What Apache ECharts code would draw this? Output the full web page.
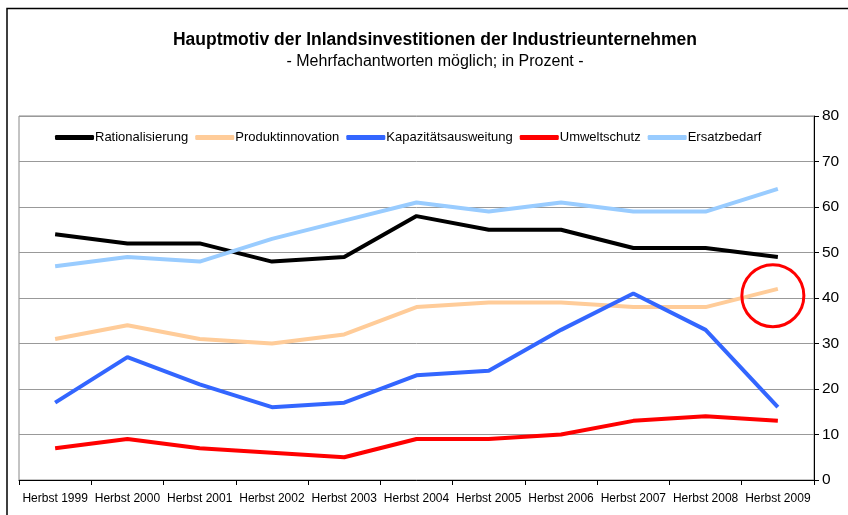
<!DOCTYPE html>
<html>
<head>
<meta charset="utf-8">
<script src="https://cdn.jsdelivr.net/npm/echarts@6/dist/echarts.min.js"></script>
<style>html,body{margin:0;padding:0;background:#fff}#c{width:848px;height:515px}</style>
</head>
<body>
<div id="c"></div>
<script>
var categories = ['Herbst 1999','Herbst 2000','Herbst 2001','Herbst 2002','Herbst 2003','Herbst 2004','Herbst 2005','Herbst 2006','Herbst 2007','Herbst 2008','Herbst 2009'];
var rationalisierung = [54, 52, 52, 48, 49, 58, 55, 55, 51, 51, 49];
var produktinnovation = [31, 34, 31, 30, 32, 38, 39, 39, 38, 38, 42];
var kapazitaet = [17, 27, 21, 16, 17, 23, 24, 33, 41, 33, 16];
var umweltschutz = [7, 9, 7, 6, 5, 9, 9, 10, 13, 14, 13];
var ersatzbedarf = [47, 49, 48, 53, 57, 61, 59, 61, 59, 59, 64];
var yTicks = [0, 10, 20, 30, 40, 50, 60, 70, 80];

var font = '"Liberation Sans", Arial, sans-serif';
function mk(name, data, color, extra) {
  var s = {
    name: name, type: 'line', data: data, symbol: 'none',
    lineStyle: { color: color, width: 4 }, itemStyle: { color: color },
    z: 3
  };
  if (extra) for (var k in extra) s[k] = extra[k];
  return s;
}
var chart = echarts.init(document.getElementById('c'));
chart.setOption({
  animation: false,
  backgroundColor: '#fff',
  textStyle: { fontFamily: font },
  title: {
    text: 'Hauptmotiv der Inlandsinvestitionen der Industrieunternehmen',
    subtext: '- Mehrfachantworten möglich; in Prozent -',
    left: 430, textAlign: 'center', top: 26, itemGap: 5,
    textStyle: { fontFamily: font, fontSize: 17.5, fontWeight: 'bold', color: '#000' },
    subtextStyle: { fontFamily: font, fontSize: 16, color: '#000' }
  },
  graphic: [{
    type: 'rect', silent: true, z: -1,
    shape: { x: 7, y: 8.5, width: 900, height: 600 },
    style: { fill: 'none', stroke: '#000', lineWidth: 1.5 }
  }],
  legend: {
    top: 126, left: 50, itemGap: 7, itemWidth: 39, itemHeight: 5,
    icon: 'roundRect',
    textStyle: { fontFamily: font, fontSize: 13, color: '#000', padding: [0, 0, 0, -4] },
    data: ['Rationalisierung','Produktinnovation','Kapazitätsausweitung','Umweltschutz','Ersatzbedarf']
  },
  grid: { left: 19, right: 34, top: 116, bottom: 35, show: true, borderColor: '#888', borderWidth: 1 },
  xAxis: {
    type: 'category', data: categories, boundaryGap: true,
    axisLine: { lineStyle: { color: '#000', width: 1 } },
    axisTick: { show: true, interval: 0, length: 5, lineStyle: { color: '#000' } },
    axisLabel: { interval: 0, fontSize: 12, color: '#000', margin: 13, fontFamily: font }
  },
  yAxis: {
    type: 'value', position: 'right', min: yTicks[0], max: yTicks[yTicks.length - 1], interval: 10,
    axisLine: { show: true, lineStyle: { color: '#000', width: 1 } },
    axisTick: { show: true, length: 5, lineStyle: { color: '#000' } },
    axisLabel: { fontSize: 15.5, color: '#000', margin: 8, fontFamily: font },
    splitLine: { lineStyle: { color: '#999', width: 1 } }
  },
  series: [
    mk('Rationalisierung', rationalisierung, '#000000'),
    mk('Produktinnovation', produktinnovation, '#FFCC99', {
      markPoint: {
        silent: true, symbol: 'circle', symbolSize: 62, symbolOffset: [-5, 0],
        label: { show: false },
        itemStyle: { color: 'rgba(0,0,0,0)', borderColor: '#FF0000', borderWidth: 3 },
        data: [{ coord: [categories.length - 1, 40.5] }]
      }
    }),
    mk('Kapazitätsausweitung', kapazitaet, '#3366FF'),
    mk('Umweltschutz', umweltschutz, '#FF0000'),
    mk('Ersatzbedarf', ersatzbedarf, '#99CCFF')
  ]
});
</script>
</body>
</html>
